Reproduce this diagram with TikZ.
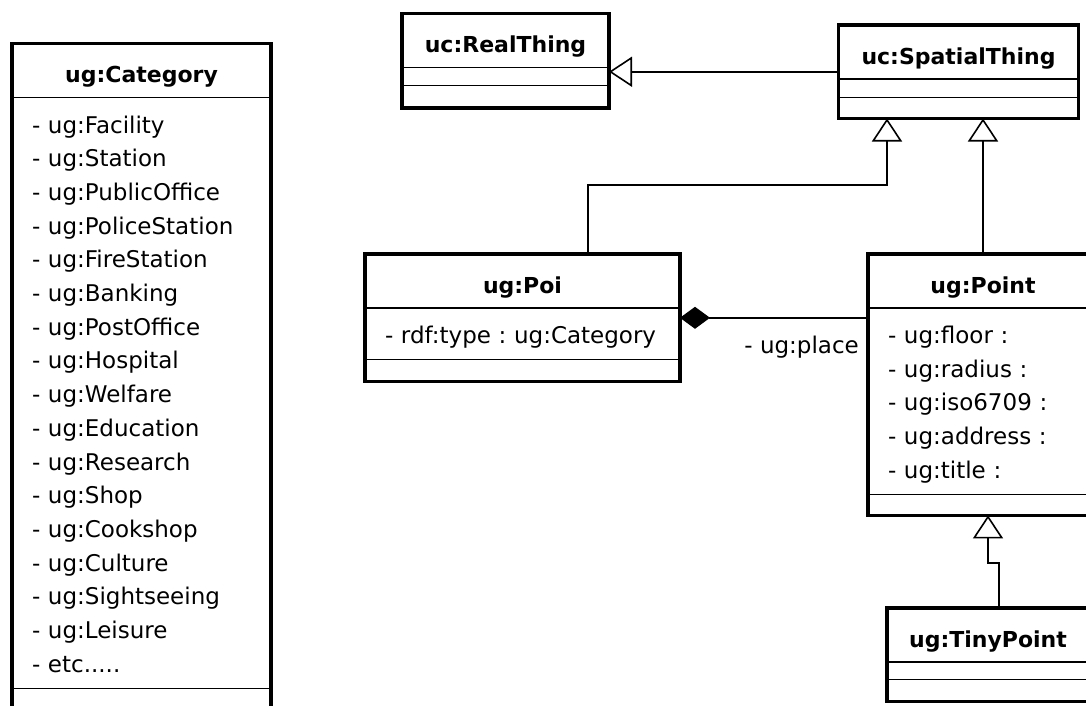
\documentclass[tikz,border=0pt]{standalone}
\usepackage{fontspec}
\setmainfont{DejaVu Sans}
\usetikzlibrary{positioning,arrows.meta,fit}
\newcommand{\titlefont}{\fontsize{22}{26}\selectfont\bfseries}
\newcommand{\attrfont}{\fontsize{23}{33.7}\selectfont\frenchspacing}

\begin{document}
\begin{tikzpicture}[
  x=1pt, y=-1pt,
  part/.style={draw, line width=1.4pt, inner sep=0pt, outer sep=0pt},
  ctitle/.style={part, font=\titlefont, minimum width=#1, minimum height=54pt,
                 text height=30pt, text depth=5pt},
  cattr/.style={part, font=\attrfont, align=left, text width=#1,
                inner xsep=20pt, inner ysep=6pt, text height=29.5pt,
                execute at end node=\strut},
  cblank/.style 2 args={part, minimum width=#1, minimum height=#2},
  cframe/.style={draw, line width=3.5pt, inner sep=0pt, outer sep=0pt},
  gen/.style={-{Triangle[open, length=23pt, width=30pt]}, line width=1.6pt},
  comp/.style={-{Diamond[length=30pt, width=22pt]}, line width=1.6pt},
  lab/.style={font=\attrfont}
]
  \path[use as bounding box, fill=white] (0,0) rectangle (1086,706);

  % category list on the left
  \node[ctitle=259pt, anchor=north] (cat) at (141.5,43.5) {ug:Category};
  \node[cattr=219pt, below=0pt of cat] (cat-attr)
    {- ug:Facility\\- ug:Station\\- ug:PublicOffice\\- ug:PoliceStation\\
     - ug:FireStation\\- ug:Banking\\- ug:PostOffice\\- ug:Hospital\\
     - ug:Welfare\\- ug:Education\\- ug:Research\\- ug:Shop\\
     - ug:Cookshop\\- ug:Culture\\- ug:Sightseeing\\- ug:Leisure\\- etc.....};
  \node[cblank={259pt}{30pt}, below=0pt of cat-attr] (cat-ops) {};
  \node[cframe, fit=(cat)(cat-ops)] (cat-box) {};

  % upper classes
  \node[ctitle=207pt, anchor=north] (real) at (505.5,13.5) {uc:RealThing};
  \node[cblank={207pt}{18pt}, below=0pt of real] (real-attr) {};
  \node[cblank={207pt}{22.5pt}, below=0pt of real-attr] (real-ops) {};
  \node[cframe, fit=(real)(real-ops)] (real-box) {};

  \node[ctitle=240pt, anchor=north] (spatial) at (958.5,25) {uc:SpatialThing};
  \node[cblank={240pt}{18.5pt}, below=0pt of spatial] (spatial-attr) {};
  \node[cblank={240pt}{21pt}, below=0pt of spatial-attr] (spatial-ops) {};
  \node[cframe, fit=(spatial)(spatial-ops)] (spatial-box) {};

  % poi and point
  \node[ctitle=315pt, anchor=north] (poi) at (522.5,254) {ug:Poi};
  \node[cattr=275pt, below=0pt of poi] (poi-attr) {- rdf:type : ug:Category};
  \node[cblank={315pt}{22pt}, below=0pt of poi-attr] (poi-ops) {};
  \node[cframe, fit=(poi)(poi-ops)] (poi-box) {};

  \node[ctitle=230pt, anchor=north] (point) at (983,254) {ug:Point};
  \node[cattr=190pt, below=0pt of point] (point-attr)
    {- ug:floor :\\- ug:radius :\\- ug:iso6709 :\\- ug:address :\\- ug:title :};
  \node[cblank={230pt}{21pt}, below=0pt of point-attr] (point-ops) {};
  \node[cframe, fit=(point)(point-ops)] (point-box) {};

  \node[ctitle=202pt, anchor=north] (tiny) at (988,608) {ug:TinyPoint};
  \node[cblank={202pt}{17.5pt}, below=0pt of tiny] (tiny-attr) {};
  \node[cblank={202pt}{22pt}, below=0pt of tiny-attr] (tiny-ops) {};
  \node[cframe, fit=(tiny)(tiny-ops)] (tiny-box) {};

  % generalisations
  \draw[gen] (spatial-box.west) -- (spatial-box.west -| real-box.east);
  \draw[gen] ([xshift=65.5pt]poi.north) -- ++(0,-69) -| ([xshift=-71.5pt]spatial-box.south);
  \draw[gen] (point.north) -- (point.north |- spatial-box.south);
  \draw[gen] ([xshift=11pt]tiny.north) -- ++(0,-45) -| ([xshift=5pt]point-box.south);

  % composition
  \draw[comp] (point-box.west |- poi-box.east) --
    node[lab, below left=14pt and 5pt, pos=0] {- ug:place} (poi-box.east);
\end{tikzpicture}
\end{document}
